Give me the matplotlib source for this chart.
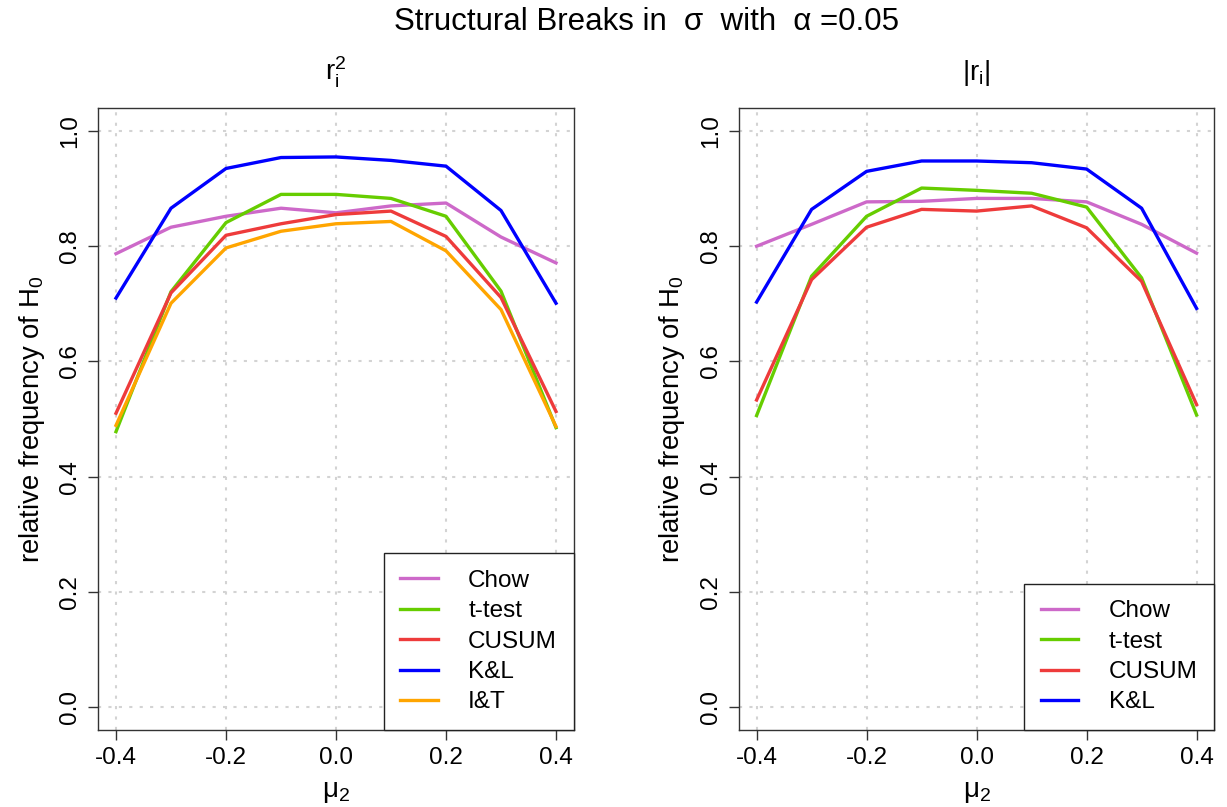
import matplotlib
matplotlib.use('Agg')
import matplotlib.pyplot as plt
import numpy as np

plt.rcParams['font.family'] = ['Liberation Sans', 'DejaVu Sans']
plt.rcParams['mathtext.fontset'] = 'custom'
plt.rcParams['mathtext.rm'] = 'Liberation Sans'
plt.rcParams['mathtext.it'] = 'Liberation Sans'
plt.rcParams['mathtext.default'] = 'regular'
plt.rcParams['axes.unicode_minus'] = False

# data
mu2 = [-0.4, -0.3, -0.2, -0.1, 0.0, 0.1, 0.2, 0.3, 0.4]

sq_chow  = [0.787, 0.833, 0.852, 0.866, 0.858, 0.870, 0.875, 0.816, 0.771]
sq_ttest = [0.478, 0.721, 0.841, 0.890, 0.890, 0.883, 0.852, 0.722, 0.485]
sq_cusum = [0.510, 0.719, 0.819, 0.839, 0.855, 0.861, 0.817, 0.711, 0.513]
sq_kl    = [0.710, 0.866, 0.935, 0.954, 0.955, 0.949, 0.939, 0.862, 0.701]
sq_it    = [0.489, 0.701, 0.797, 0.826, 0.839, 0.843, 0.792, 0.690, 0.487]

abs_chow  = [0.800, 0.838, 0.877, 0.878, 0.883, 0.883, 0.877, 0.838, 0.788]
abs_ttest = [0.506, 0.748, 0.852, 0.901, 0.897, 0.892, 0.868, 0.745, 0.507]
abs_cusum = [0.533, 0.742, 0.833, 0.864, 0.861, 0.870, 0.832, 0.739, 0.525]
abs_kl    = [0.703, 0.864, 0.930, 0.948, 0.948, 0.945, 0.934, 0.866, 0.692]

labels_sq = ['Chow', 't-test', 'CUSUM', 'K&L', 'I&T']
labels_abs = ['Chow', 't-test', 'CUSUM', 'K&L']
cols = ['#CD69C9', '#66CD00', '#EE3B3B', '#0000FF', '#FFA500']

xticks = [-0.4, -0.2, 0.0, 0.2, 0.4]
yticks = [0.0, 0.2, 0.4, 0.6, 0.8, 1.0]

fig = plt.figure(figsize=(12.27, 8.07), dpi=100)
W, H = 1227.0, 807.0
ax1 = fig.add_axes([98.4/W, 77/H, 475.2/W, 622/H])
ax2 = fig.add_axes([739/W, 77/H, 475.2/W, 622/H])

def panel(ax, series, labels, title):
    ax.set_xlim(-0.432, 0.432)
    ax.set_ylim(-0.04, 1.04)
    ax.set_xticks(xticks)
    ax.set_yticks(yticks)
    ax.set_xticklabels(['%.1f' % t for t in xticks], fontsize=17.5)
    ax.set_yticklabels(['%.1f' % t for t in yticks], fontsize=17.5, rotation=90, va='center')
    ax.tick_params(length=7.2, width=1, direction='out', color='#333333', pad=5)
    ax.grid(True, color='#D3D3D3', linestyle=(0, (1.5, 3.5)), linewidth=1.5)
    ax.set_axisbelow(True)
    for s in ax.spines.values():
        s.set_color('#333333')
        s.set_linewidth(1.0)
    for y, lab, c in zip(series, labels, cols):
        ax.plot(mu2, y, color=c, lw=2.4, label=lab, solid_joinstyle='round')
    leg = ax.legend(loc='lower right', borderaxespad=0, fontsize=17.5, fancybox=False,
                    edgecolor='#222222', framealpha=1, handlelength=1.55, handletextpad=1.25,
                    labelspacing=0.345, borderpad=0.68)
    leg.get_frame().set_linewidth(1.0)
    ax.text(0.5, 1.045, title, transform=ax.transAxes, ha='center', va='baseline', fontsize=20)
    ax.text(-0.14, 0.5, 'relative frequency of H$_0$', transform=ax.transAxes,
            rotation=90, ha='center', va='center', fontsize=19.8)
    ax.text(0.5, -0.10, '$\\mu_2$', transform=ax.transAxes, ha='center', va='center', fontsize=20)

panel(ax1, [sq_chow, sq_ttest, sq_cusum, sq_kl, sq_it], labels_sq, '$r_i^2$')
panel(ax2, [abs_chow, abs_ttest, abs_cusum, abs_kl], labels_abs, '$|r_i|$')

fig.text(646/W, 1 - 22/H, 'Structural Breaks in  σ  with  α =0.05', ha='center', va='center', fontsize=22.5)

fig.savefig('out.png', dpi=100)
